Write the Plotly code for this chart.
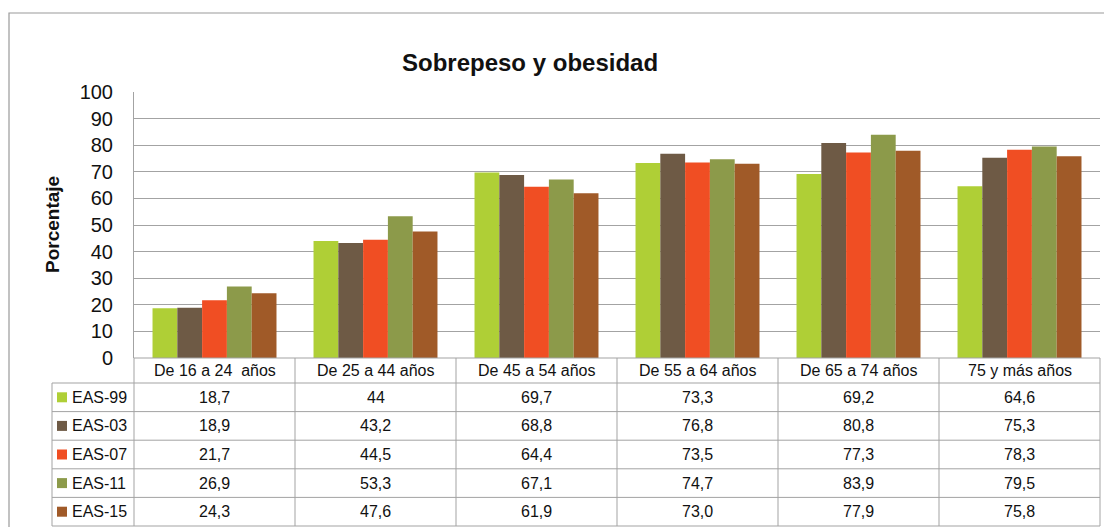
import plotly.graph_objects as go

categories = ["De 16 a 24  años", "De 25 a 44 años", "De 45 a 54 años",
              "De 55 a 64 años", "De 65 a 74 años", "75 y más años"]
series_names = ["EAS-99", "EAS-03", "EAS-07", "EAS-11", "EAS-15"]
eas99 = [18.7, 44, 69.7, 73.3, 69.2, 64.6]
eas03 = [18.9, 43.2, 68.8, 76.8, 80.8, 75.3]
eas07 = [21.7, 44.5, 64.4, 73.5, 77.3, 78.3]
eas11 = [26.9, 53.3, 67.1, 74.7, 83.9, 79.5]
eas15 = [24.3, 47.6, 61.9, 73.0, 77.9, 75.8]
series_values = [eas99, eas03, eas07, eas11, eas15]
colors = ["#AFCF36", "#6E5A45", "#F04E23", "#8C9A4A", "#A05A28"]
y_ticks = [0, 10, 20, 30, 40, 50, 60, 70, 80, 90, 100]

OFF = 8  # page body margin
W, H = 1112 - OFF, 527 - OFF
PL, PR, PT, PB = 134, 1100, 92, 358  # plot area in reference pixels
FONT = "Arial, Liberation Sans, sans-serif"
LINE = "#A3A3A3"


def X(px):
    return (px - PL) / (PR - PL)


def Y(py):
    return (PB - py) / (PB - PT)


def fmt(v):
    if isinstance(v, int):
        return str(v)
    return f"{v:.1f}".replace(".", ",")


fig = go.Figure()
for name, vals, col in zip(series_names, series_values, colors):
    fig.add_trace(go.Bar(x=categories, y=vals, name=name, marker_color=col,
                         marker_line_width=0, showlegend=False))

shapes = []
annotations = []

# outer frame
shapes.append(dict(type="rect", xref="paper", yref="paper",
                   x0=X(9), x1=X(1130), y0=Y(560), y1=Y(13),
                   line=dict(color="#9A9A9A", width=1.2)))

col_w = (PR - PL) / len(categories)
header_top, header_bot = PB, 383
row_h = (526 - header_bot) / len(series_names)
row_tops = [header_bot + i * row_h for i in range(len(series_names) + 1)]
tbl_left = 52

# horizontal table lines
shapes.append(dict(type="line", xref="paper", yref="paper",
                   x0=X(PL), x1=X(PR), y0=Y(header_top), y1=Y(header_top),
                   line=dict(color=LINE, width=1)))
for yt in row_tops:
    shapes.append(dict(type="line", xref="paper", yref="paper",
                       x0=X(tbl_left), x1=X(PR), y0=Y(yt), y1=Y(yt),
                       line=dict(color=LINE, width=1)))
# vertical table lines
shapes.append(dict(type="line", xref="paper", yref="paper",
                   x0=X(tbl_left), x1=X(tbl_left), y0=Y(header_bot), y1=Y(row_tops[-1]),
                   line=dict(color=LINE, width=1)))
for i in range(len(categories) + 1):
    xv = PL + i * col_w
    shapes.append(dict(type="line", xref="paper", yref="paper",
                       x0=X(xv), x1=X(xv), y0=Y(header_top), y1=Y(row_tops[-1]),
                       line=dict(color=LINE, width=1)))

# header labels
for i, c in enumerate(categories):
    annotations.append(dict(x=X(PL + (i + 0.5) * col_w), y=Y((header_top + header_bot) / 2),
                            xref="paper", yref="paper", text=c, showarrow=False,
                            xanchor="center", yanchor="middle",
                            font=dict(family=FONT, size=16, color="#111")))

# rows
for r, (name, vals, col) in enumerate(zip(series_names, series_values, colors)):
    yc = row_tops[r] + row_h / 2
    shapes.append(dict(type="rect", xref="paper", yref="paper",
                       x0=X(57), x1=X(67), y0=Y(yc + 5), y1=Y(yc - 5),
                       fillcolor=col, line=dict(width=0)))
    annotations.append(dict(x=X(70), y=Y(yc), xref="paper", yref="paper", text=name,
                            showarrow=False, xanchor="left", yanchor="middle",
                            font=dict(family=FONT, size=16, color="#111")))
    for i, v in enumerate(vals):
        annotations.append(dict(x=X(PL + (i + 0.5) * col_w), y=Y(yc), xref="paper",
                                yref="paper", text=fmt(v), showarrow=False,
                                xanchor="center", yanchor="middle",
                                font=dict(family=FONT, size=16, color="#111")))

# title
annotations.append(dict(x=X(530), y=Y(63), xref="paper", yref="paper",
                        text="<b>Sobrepeso y obesidad</b>", showarrow=False,
                        xanchor="center", yanchor="middle",
                        font=dict(family=FONT, size=24, color="#111")))
# y-axis title
annotations.append(dict(x=X(52), y=Y(225), xref="paper", yref="paper",
                        text="<b>Porcentaje</b>", showarrow=False, textangle=-90,
                        xanchor="center", yanchor="middle",
                        font=dict(family=FONT, size=19, color="#111")))

fig.update_layout(
    width=W, height=H,
    margin=dict(l=PL - OFF, r=1112 - PR, t=PT - OFF, b=527 - PB, pad=0),
    paper_bgcolor="white", plot_bgcolor="white",
    barmode="group", bargap=0.23, bargroupgap=0,
    shapes=shapes, annotations=annotations,
    xaxis=dict(showticklabels=False, showgrid=False, zeroline=False, showline=False,
               ticks=""),
    yaxis=dict(range=[0, 100], tickvals=y_ticks, showgrid=True, gridcolor=LINE,
               gridwidth=1, zeroline=False, showline=True, linecolor=LINE, linewidth=1,
               ticks="", ticklabelstandoff=16,
               tickfont=dict(family=FONT, size=20, color="#111")),
    font=dict(family=FONT),
)

fig.write_html("out.html")
